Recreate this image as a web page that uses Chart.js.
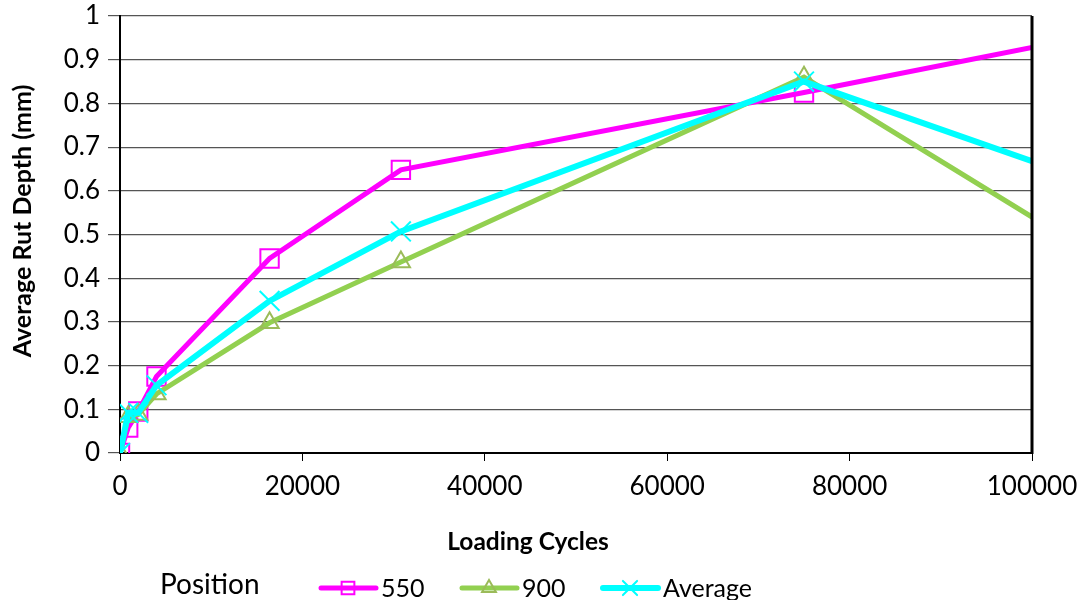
<!DOCTYPE html>
<html>
<head>
<meta charset="utf-8">
<title>Average Rut Depth</title>
<script src="https://cdn.jsdelivr.net/npm/chart.js@4.4.1/dist/chart.umd.min.js"></script>
<style>
  html, body { margin: 0; padding: 0; background: #fff; }
  #wrap { width: 1078px; height: 600px; }
</style>
</head>
<body>
<div id="wrap"><canvas id="rutChart"></canvas></div>
<script>
// loading cycles and measured rut depth (mm) per position
const cycles = [0, 900, 2000, 4000, 16400, 30800, 75000, 100000];
const rut550 = [0, 0.058, 0.095, 0.175, 0.445, 0.648, 0.825, 0.928];
const rut900 = [0, 0.083, 0.088, 0.135, 0.298, 0.437, 0.86, 0.54];
const rutAverage = [0, 0.092, 0.092, 0.155, 0.348, 0.507, 0.85, 0.668];
const seriesNames = ['550', '900', 'Average'];
const xTicks = [0, 20000, 40000, 60000, 80000, 100000];
const yTicks = [0, 0.1, 0.2, 0.3, 0.4, 0.5, 0.6, 0.7, 0.8, 0.9, 1];

const FONT = 'Lato, "Open Sans", sans-serif';

function toPoints(values) {
    return cycles.map((c, i) => ({ x: c, y: values[i] }));
}

// no marker on the last point, the line just runs into the frame
function markerSize(r) {
    return ctx => ctx.dataIndex === cycles.length - 1 ? 0 : r;
}

const styles = [
    { line: '#FF00FF', marker: '#FF00FF', pointStyle: 'rect', radius: 13, width: 5, legendRadius: 9 },
    { line: '#92D050', marker: '#9BBB59', pointStyle: 'triangle', radius: 10.5, width: 5, legendRadius: 8 },
    { line: '#00FFFF', marker: '#00FFFF', pointStyle: 'crossRot', radius: 14, width: 6, legendRadius: 10 }
];

const seriesValues = [rut550, rut900, rutAverage];

const datasets = seriesValues.map((vals, i) => ({
    label: seriesNames[i],
    data: toPoints(vals),
    borderColor: styles[i].line,
    borderWidth: styles[i].width,
    pointStyle: styles[i].pointStyle,
    pointRadius: markerSize(styles[i].radius),
    pointHoverRadius: markerSize(styles[i].radius),
    pointBorderColor: styles[i].marker,
    pointBackgroundColor: 'rgba(0,0,0,0)',
    pointBorderWidth: 2,
    tension: 0,
    fill: false,
    order: 2 - i
}));

// titles, right frame edge and the legend row
const decorations = {
    id: 'decorations',
    afterDraw(chart) {
        const ctx = chart.ctx;
        const area = chart.chartArea;
        ctx.save();

        ctx.strokeStyle = '#000';
        ctx.lineWidth = 3;
        ctx.beginPath();
        ctx.moveTo(area.right, area.top);
        ctx.lineTo(area.right, area.bottom + 1);
        ctx.stroke();

        ctx.fillStyle = '#000';
        ctx.font = 'bold 24.5px ' + FONT;
        ctx.textAlign = 'center';
        ctx.textBaseline = 'middle';
        ctx.fillText('Loading Cycles', 528, 542);

        ctx.font = 'bold 25px ' + FONT;
        ctx.translate(23, 221);
        ctx.rotate(-Math.PI / 2);
        ctx.fillText('Average Rut Depth (mm)', 0, 0);
        ctx.setTransform(1, 0, 0, 1, 0, 0);

        ctx.textAlign = 'left';
        ctx.textBaseline = 'alphabetic';
        ctx.font = '28px ' + FONT;
        ctx.fillText('Position', 160, 594);

        const starts = [321, 462, 603];
        ctx.font = '25px ' + FONT;
        chart.data.datasets.forEach((ds, i) => {
            const x0 = starts[i];
            const y = 588;
            ctx.strokeStyle = ds.borderColor;
            ctx.lineWidth = ds.borderWidth;
            ctx.lineCap = 'round';
            ctx.beginPath();
            ctx.moveTo(x0, y);
            ctx.lineTo(x0 + 55, y);
            ctx.stroke();
            ctx.strokeStyle = ds.pointBorderColor;
            ctx.fillStyle = 'rgba(0,0,0,0)';
            ctx.lineWidth = 2;
            Chart.helpers.drawPoint(ctx, {
                pointStyle: ds.pointStyle,
                radius: styles[i].legendRadius,
                rotation: 0,
                borderWidth: 2
            }, x0 + 27, y);
            ctx.fillStyle = '#000';
            ctx.fillText(ds.label, x0 + 60, 597);
        });
        ctx.restore();
    }
};

new Chart(document.getElementById('rutChart'), {
    type: 'line',
    data: { datasets: datasets },
    options: {
        responsive: true,
        maintainAspectRatio: false,
        animation: false,
        layout: { padding: { top: 16, right: 46, left: 0, bottom: 0 } },
        plugins: {
            legend: { display: false },
            tooltip: { enabled: false }
        },
        scales: {
            x: {
                type: 'linear',
                min: 0,
                max: 100000,
                afterBuildTicks: scale => { scale.ticks = xTicks.map(v => ({ value: v })); },
                afterFit: scale => {
                    scale.height = 147;
                    scale.paddingLeft = 0;
                    scale.paddingRight = 0;
                },
                ticks: {
                    color: '#000',
                    font: { family: FONT, size: 26 },
                    padding: 10,
                    maxRotation: 0,
                    callback: v => String(v)
                },
                grid: { drawOnChartArea: false, drawTicks: true, tickLength: 8, color: '#000', lineWidth: 1 },
                border: { color: '#000', width: 2 }
            },
            y: {
                min: 0,
                max: 1,
                afterBuildTicks: scale => { scale.ticks = yTicks.map(v => ({ value: v })); },
                afterFit: scale => {
                    scale.width = 120;
                    scale.paddingTop = 0;
                    scale.paddingBottom = 0;
                },
                ticks: {
                    color: '#000',
                    font: { family: FONT, size: 26 },
                    padding: 8,
                    callback: v => String(Number(v.toFixed(1)))
                },
                grid: { color: '#555', lineWidth: 1.2, tickLength: 12 },
                border: { color: '#000', width: 2 }
            }
        }
    },
    plugins: [decorations]
});
</script>
</body>
</html>
